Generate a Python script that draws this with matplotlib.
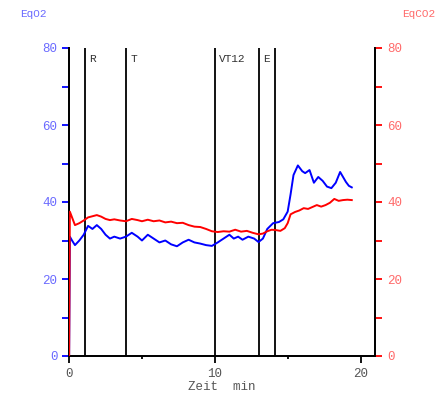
import numpy as np
from matplotlib import pyplot as plt

# %% Data.
# EqO2 (blue, left axis):
t_o2 = [0.0, 0.05, 0.2, 0.4, 0.7, 1.0, 1.3, 1.6, 1.9, 2.2, 2.5, 2.8, 3.1, 3.5,
        3.9, 4.3, 4.7, 5.0, 5.4, 5.8, 6.2, 6.6, 7.0, 7.4, 7.8, 8.2, 8.6, 9.0,
        9.4, 9.8, 10.2, 10.6, 11.0, 11.3, 11.6, 11.9, 12.3, 12.7, 13.0, 13.3,
        13.6, 14.0, 14.4, 14.7, 15.0, 15.2, 15.4, 15.7, 16.0, 16.2, 16.5, 16.8,
        17.1, 17.4, 17.7, 18.0, 18.3, 18.6, 18.8, 19.0, 19.2, 19.4]
eq_o2 = [0.0, 31.0, 30.0, 28.8, 30.0, 31.5, 33.8, 33.0, 34.0, 33.0, 31.5, 30.5,
         31.0, 30.5, 31.0, 32.0, 31.0, 30.0, 31.5, 30.5, 29.5, 30.0, 29.0,
         28.5, 29.5, 30.2, 29.5, 29.2, 28.8, 28.6, 29.5, 30.5, 31.5, 30.5,
         31.0, 30.2, 31.0, 30.5, 29.6, 30.5, 33.0, 34.5, 34.8, 35.5, 37.5,
         42.0, 47.0, 49.5, 48.0, 47.5, 48.3, 45.0, 46.5, 45.5, 44.0, 43.6,
         45.0, 47.8, 46.5, 45.2, 44.2, 43.8]

# EqCO2 (red, right axis):
t_co2 = [0.0, 0.05, 0.2, 0.4, 0.7, 1.0, 1.3, 1.6, 1.9, 2.2, 2.5, 2.8, 3.1, 3.5,
         3.9, 4.3, 4.7, 5.0, 5.4, 5.8, 6.2, 6.6, 7.0, 7.4, 7.8, 8.2, 8.6, 9.0,
         9.4, 9.8, 10.2, 10.6, 11.0, 11.4, 11.8, 12.2, 12.6, 13.0, 13.3, 13.6,
         13.9, 14.2, 14.5, 14.8, 15.0, 15.2, 15.5, 15.8, 16.1, 16.4, 16.7,
         17.0, 17.3, 17.6, 17.9, 18.2, 18.5, 18.8, 19.1, 19.4]
eq_co2 = [0.0, 37.5, 36.0, 34.0, 34.5, 35.2, 36.0, 36.3, 36.6, 36.2, 35.6,
          35.3, 35.5, 35.2, 35.0, 35.6, 35.3, 35.0, 35.4, 35.0, 35.2, 34.7,
          34.9, 34.5, 34.6, 34.0, 33.6, 33.5, 33.0, 32.4, 32.2, 32.4, 32.3,
          32.8, 32.3, 32.5, 32.0, 31.6, 31.8, 32.4, 32.8, 32.7, 32.5, 33.2,
          34.5, 36.8, 37.4, 37.8, 38.4, 38.2, 38.7, 39.2, 38.8, 39.2, 39.8,
          40.8, 40.3, 40.5, 40.6, 40.5]

# Event markers:
ev_t = [1.1, 3.9, 10.0, 13.0, 14.1]
ev_lab = ['R', 'T', 'VT12', 'E', '']

# %% Plot.
plt.rcParams['font.family'] = 'Liberation Mono'
blue, red = '#0000ff', '#ff0000'
blue_txt, red_txt = '#6a6aff', '#ff6a6a'

fig = plt.figure(figsize=(4.46, 4.0), dpi=100)
ax = fig.add_axes([0.155, 0.11, 0.686, 0.77])
ax2 = ax.twinx()

for t in ev_t:
    ax.axvline(t, color='k', lw=1.3, zorder=1)
for t, s in zip(ev_t, ev_lab):
    ax.text(t + 0.3, 78.5, s, fontsize=8, color='#333333', va='top', ha='left')

ax.plot(t_o2, eq_o2, color=blue, lw=1.4, zorder=3)
ax2.plot(t_co2, eq_co2, color=red, lw=1.4, zorder=3)

for a in (ax, ax2):
    a.set_xlim(0, 21)
    a.set_ylim(0, 80)
    a.spines['top'].set_visible(False)
    for sp in ('left', 'right', 'bottom'):
        a.spines[sp].set_color('k')
        a.spines[sp].set_linewidth(1.3)

ax.set_yticks(range(0, 81, 20))
ax.set_yticks(range(10, 80, 20), minor=True)
ax.tick_params(axis='y', which='both', colors=blue, labelcolor=blue_txt,
               labelsize=9, length=5, width=1.3)
ax2.set_yticks(range(0, 81, 20))
ax2.set_yticks(range(10, 80, 20), minor=True)
ax2.tick_params(axis='y', which='both', colors=red, labelcolor=red_txt,
                labelsize=9, length=5, width=1.3)

ax.set_xticks([0, 10, 20])
ax.set_xticks([5, 15], minor=True)
ax.tick_params(axis='x', which='major', length=5, width=1.3, labelsize=9,
               labelcolor='#555555')
ax.tick_params(axis='x', which='minor', length=2, width=1.3)
ax.set_xlabel('Zeit  min', fontsize=9, color='#555555', labelpad=1)

fig.text(0.045, 0.965, 'EqO2', color=blue_txt, fontsize=8, va='center')
fig.text(0.975, 0.965, 'EqCO2', color=red_txt, fontsize=8, va='center',
         ha='right')

plt.savefig('out.png', dpi=100)
